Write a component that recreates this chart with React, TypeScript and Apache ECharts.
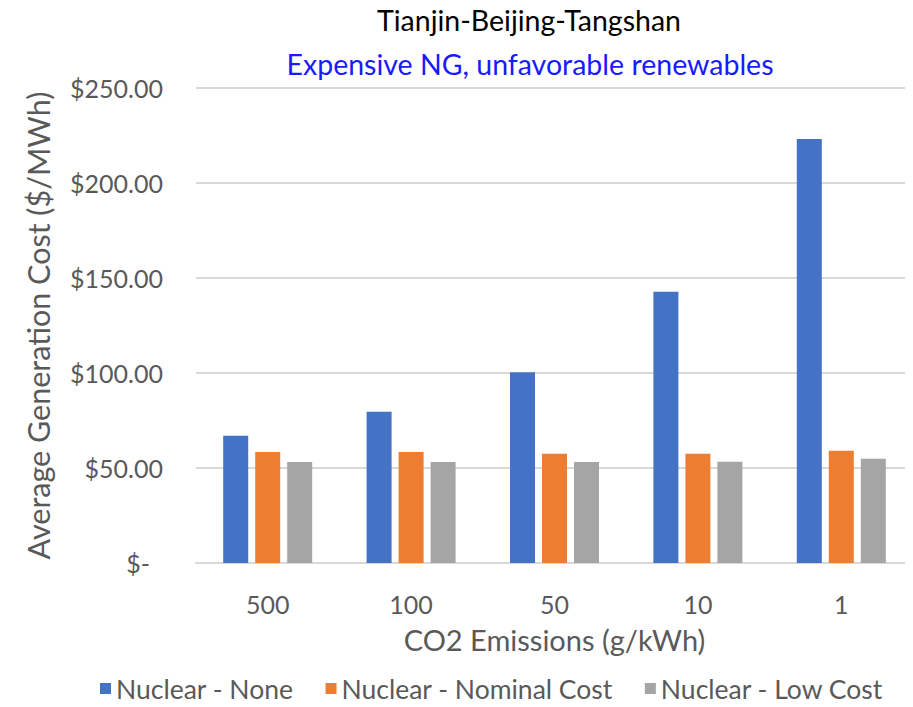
import React, { useEffect, useRef } from "react";
import * as echarts from "echarts";

const categories = ["500", "100", "50", "10", "1"];
const nuclearNone = [67, 79.6, 100.4, 142.8, 223.1];
const nuclearNominal = [58.4, 58.4, 57.5, 57.5, 59.1];
const nuclearLow = [53.2, 53.2, 53.2, 53.3, 54.9];
const seriesNames = ["Nuclear - None", "Nuclear - Nominal Cost", "Nuclear - Low Cost"];
const colors = ["#4472C4", "#ED7D31", "#A5A5A5"];

const FONT = "Lato";

export default function App() {
  const ref = useRef<HTMLDivElement>(null);
  useEffect(() => {
    const chart = echarts.init(ref.current!, null, { renderer: "svg" });
    const data = [nuclearNone, nuclearNominal, nuclearLow];
    chart.setOption({
      animation: false,
      textStyle: { fontFamily: FONT },
      graphic: [
        {
          type: "text",
          x: 529,
          y: 20,
          style: {
            text: "Tianjin-Beijing-Tangshan",
            fill: "#000000",
            font: `28.5px ${FONT}`,
            align: "center",
            verticalAlign: "middle",
          },
        },
        {
          type: "text",
          x: 530,
          y: 64,
          style: {
            text: "Expensive NG, unfavorable renewables",
            fill: "#1a1aff",
            font: `28.5px ${FONT}`,
            align: "center",
            verticalAlign: "middle",
          },
        },
      ],
      grid: { left: 196, right: -4, top: 88, bottom: 707 - 563 },
      legend: {
        bottom: 5,
        left: 95,
        padding: [0, 5, 0, 5],
        itemWidth: 11,
        itemHeight: 11,
        itemGap: 32,
        icon: "rect",
        textStyle: { fontSize: 26.5, color: "#595959", fontFamily: FONT },
        data: seriesNames,
      },
      xAxis: {
        type: "category",
        data: categories,
        name: "CO2 Emissions (g/kWh)",
        nameLocation: "middle",
        nameGap: 62,
        nameTextStyle: { fontSize: 29, color: "#595959", fontFamily: FONT },
        axisLine: { lineStyle: { color: "#d9d9d9", width: 2 } },
        axisTick: { show: false },
        axisLabel: { fontSize: 25, color: "#595959", margin: 28, fontFamily: FONT },
      },
      yAxis: {
        type: "value",
        min: 0,
        max: 250,
        interval: 50,
        name: "Average Generation Cost ($/MWh)",
        nameLocation: "middle",
        nameGap: 143,
        nameTextStyle: { fontSize: 30.5, color: "#595959", fontFamily: FONT },
        axisLine: { show: false },
        axisTick: { show: false },
        splitLine: { lineStyle: { color: "#d9d9d9", width: 2 } },
        axisLabel: {
          fontSize: 25,
          color: "#595959",
          margin: 33,
          fontFamily: FONT,
          formatter: (v: number) => (v === 0 ? "{z|$-}" : "$" + v.toFixed(2)),
          rich: { z: { fontSize: 25, color: "#595959", fontFamily: FONT, padding: [0, 13, 0, 0] } },
        },
      },
      series: seriesNames.map((name, i) => ({
        name,
        type: "bar",
        data: data[i],
        barWidth: 25,
        barGap: "28%",
        itemStyle: { color: colors[i] },
      })),
    });
    return () => chart.dispose();
  }, []);
  return <div ref={ref} style={{ width: 913, height: 707, margin: -8 }} />;
}
